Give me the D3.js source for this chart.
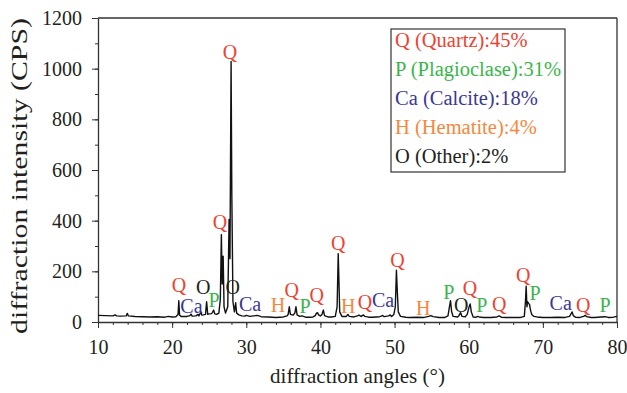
<!DOCTYPE html>
<html>
<head>
<meta charset="utf-8">
<script src="https://cdn.jsdelivr.net/npm/d3@7"></script>
<style>
  body { margin: 0; background: #fff; }
  svg { display: block; }
  text { font-family: "Liberation Serif", "DejaVu Serif", serif; }
</style>
</head>
<body>
<svg id="chart" width="627" height="393"></svg>
<script>
'use strict';

// diffraction pattern (angle in degrees, intensity in CPS)
var angles = [
  10, 11, 12, 12.3, 12.5, 13, 13.8, 13.95, 14.1, 15, 16, 17, 18, 19, 19.5, 20, 20.5,
  20.8, 20.9, 21.0, 21.2, 22, 22.4, 22.55, 22.7, 23.2, 23.5, 23.6, 23.9, 24.0, 24.2,
  24.5, 24.65, 24.8, 25.0, 25.3, 25.45, 25.6, 25.75, 26.0, 26.3, 26.5, 26.64, 26.75,
  26.88, 27.0, 27.2, 27.5, 27.68, 27.8, 27.95, 28.05, 28.2, 28.4, 28.57, 28.7, 29.0,
  29.4, 29.8, 30.0, 30.5, 31.0, 31.5, 32, 33, 34, 34.5, 35.0, 35.5, 35.65, 35.8, 35.95,
  36.3, 36.55, 36.7, 36.85, 37.2, 37.5, 38, 38.5, 39, 39.3, 39.45, 39.6, 39.75, 40.0,
  40.2, 40.4, 40.55, 41, 41.5, 42.0, 42.25, 42.4, 42.5, 42.6, 42.9, 43.5, 43.7, 43.9,
  44.5, 45.0, 45.2, 45.5, 45.8, 46.0, 46.5, 47, 47.5, 48.0, 48.2, 48.4, 48.6, 49.0,
  49.2, 49.4, 49.6, 49.9, 50.1, 50.25, 50.38, 50.5, 50.8, 51.5, 52, 53, 54, 54.6, 54.9,
  55.2, 56, 56.8, 57.2, 57.4, 57.55, 57.7, 57.9, 58.5, 58.7, 58.9, 59.1, 59.5, 59.8,
  60.05, 60.2, 60.35, 60.6, 61, 61.2, 61.4, 62, 63, 63.8, 64.1, 64.4, 65, 66, 67, 67.5,
  67.65, 67.75, 67.85, 67.95, 68.1, 68.2, 68.35, 68.5, 68.8, 69.2, 70, 71, 72, 73,
  73.6, 73.8, 73.95, 74.1, 74.4, 75, 75.5, 75.7, 75.9, 76.5, 77, 77.8, 78.4, 78.8,
  79.5, 80
];
var intensity = [
  26, 25, 24, 28, 24, 23, 24, 34, 24, 22, 21, 20, 21, 19, 22, 20, 21,
  30, 84, 28, 22, 22, 25, 31, 23, 24, 30, 24, 40, 27, 28,
  30, 80, 30, 32, 33, 38, 47, 32, 30, 35, 90, 345, 150,
  260, 60, 35, 60, 405, 250, 1028, 500, 80, 40, 76, 35, 28,
  24, 23, 26, 22, 24, 26, 21, 20, 18, 19, 20, 24, 30, 60, 30,
  27, 35, 60, 28, 22, 24, 19, 19, 20, 25, 34, 37, 28, 24,
  30, 47, 25, 20, 20, 22, 60, 270, 158, 40, 22, 22, 30, 22,
  20, 24, 27, 22, 28, 22, 19, 19, 20, 21, 23, 26, 21, 23,
  24, 28, 22, 30, 60, 204, 113, 40, 22, 19, 18, 19, 18, 22, 25,
  21, 18, 18, 24, 60, 84, 40, 22, 20, 26, 37, 22, 20, 30,
  60, 71, 40, 20, 19, 22, 20, 18, 18, 20, 24, 19, 18, 18, 18, 22,
  80, 141, 60, 80, 72, 70, 45, 30, 22, 20, 18, 18, 19, 18,
  22, 32, 40, 25, 19, 18, 22, 27, 21, 18, 18, 20, 21, 18,
  19, 22
];

// phase labels placed above the peaks
var peakLabels = ['Q', 'Q', 'Q', 'Ca', 'O', 'P', 'O', 'Ca', 'H', 'Q', 'P', 'Q', 'Q', 'H',
                  'Q', 'Ca', 'Q', 'H', 'P', 'O', 'Q', 'P', 'Q', 'Q', 'P', 'Ca', 'Q', 'P'];
var peakLabelAngles = [27.8, 26.46, 20.93, 22.6, 24.2, 25.65, 28.17, 30.5, 34.28, 36.13,
                       37.92, 39.5, 42.41, 43.76, 46.01, 48.44, 50.4, 53.88, 57.3, 58.98,
                       60.18, 61.75, 64.13, 67.36, 68.94, 72.41, 75.46, 78.38];
var peakLabelIntensity = [1066, 393, 146, 63, 140, 87, 138, 71, 67, 126, 63, 106, 310, 63,
                          80, 85, 244, 55, 119, 68, 133, 67, 71, 185, 113, 76, 67, 67];

var legendKeys = ['Q', 'P', 'Ca', 'H', 'O'];
var legendTexts = ['Q (Quartz):45%', 'P (Plagioclase):31%', 'Ca (Calcite):18%',
                   'H (Hematite):4%', 'O (Other):2%'];

var xTicks = [10, 20, 30, 40, 50, 60, 70, 80];
var yTicks = [0, 200, 400, 600, 800, 1000, 1200];

var phaseColor = {
  Q: '#ef4130',
  P: '#3ab54a',
  Ca: '#3b3894',
  H: '#f6883c',
  O: '#231f20'
};

var margin = {top: 18, right: 10, bottom: 71, left: 98},
    width = 627 - margin.left - margin.right,
    height = 393 - margin.top - margin.bottom;

var svg = d3.select('#chart');
var g = svg.append('g')
  .attr('transform', 'translate(' + margin.left + ',' + margin.top + ')');

var x = d3.scaleLinear().domain([10, 80]).range([0, width]);
var y = d3.scaleLinear().domain([0, 1200]).range([height, 0]);

var axisColor = '#333';

// frame (top and right)
g.append('line')
  .attr('x1', 0).attr('x2', width).attr('y1', 0).attr('y2', 0)
  .attr('stroke', axisColor).attr('stroke-width', 1.3);
g.append('line')
  .attr('x1', width).attr('x2', width).attr('y1', 0).attr('y2', height)
  .attr('stroke', axisColor).attr('stroke-width', 1.3);

// minor ticks
g.append('g')
  .attr('transform', 'translate(0,' + height + ')')
  .call(d3.axisBottom(x).tickValues(d3.range(10, 81, 2)).tickSize(3).tickFormat(''))
  .call(function(s) { s.select('.domain').remove(); s.selectAll('line').attr('stroke', axisColor); });
g.append('g')
  .call(d3.axisLeft(y).tickValues(d3.range(0, 1201, 100)).tickSize(3).tickFormat(''))
  .call(function(s) { s.select('.domain').remove(); s.selectAll('line').attr('stroke', axisColor); });

// major axes
var xAxis = g.append('g')
  .attr('transform', 'translate(0,' + height + ')')
  .call(d3.axisBottom(x).tickValues(xTicks).tickFormat(d3.format('d'))
    .tickSize(6).tickPadding(12).tickSizeOuter(0));
var yAxis = g.append('g')
  .call(d3.axisLeft(y).tickValues(yTicks).tickFormat(d3.format('d'))
    .tickSize(6).tickPadding(10).tickSizeOuter(0));

[xAxis, yAxis].forEach(function(a) {
  a.attr('font-family', null);
  a.select('.domain').attr('stroke', axisColor).attr('stroke-width', 1.3);
  a.selectAll('.tick line').attr('stroke', axisColor);
  a.selectAll('.tick text')
    .attr('fill', '#231f20')
    .style('font-family', '"Liberation Serif", serif')
    .style('font-size', '20px');
});

// pattern
var line = d3.line()
  .x(function(d) { return x(d[0]); })
  .y(function(d) { return y(d[1]); });

g.append('path')
  .datum(d3.zip(angles, intensity))
  .attr('fill', 'none')
  .attr('stroke', '#111')
  .attr('stroke-width', 1.4)
  .attr('stroke-linejoin', 'round')
  .attr('d', line);

// peak labels
g.append('g').selectAll('text')
  .data(d3.range(peakLabels.length))
  .enter().append('text')
  .attr('x', function(i) { return x(peakLabelAngles[i]); })
  .attr('y', function(i) { return y(peakLabelIntensity[i]); })
  .attr('dy', '0.35em')
  .attr('text-anchor', 'middle')
  .attr('fill', function(i) { return phaseColor[peakLabels[i]]; })
  .style('font-size', '20px')
  .text(function(i) { return peakLabels[i]; });

// legend
var legend = svg.append('g').attr('transform', 'translate(391,29)');
legend.append('rect')
  .attr('width', 174).attr('height', 143)
  .attr('fill', '#fff')
  .attr('stroke', '#333').attr('stroke-width', 1.2);
legend.selectAll('text')
  .data(legendTexts)
  .enter().append('text')
  .attr('x', 4)
  .attr('y', function(d, i) { return 11 + i * 29; })
  .attr('dy', '0.35em')
  .attr('fill', function(d, i) { return phaseColor[legendKeys[i]]; })
  .style('font-size', '20.5px')
  .text(function(d) { return d; });

// axis titles
svg.append('text')
  .attr('x', margin.left + width / 2)
  .attr('y', 383)
  .attr('text-anchor', 'middle')
  .attr('fill', '#231f20')
  .style('font-size', '21px')
  .text('diffraction angles (°)');

svg.append('text')
  .attr('transform', 'translate(27,176) rotate(-90)')
  .attr('text-anchor', 'middle')
  .attr('fill', '#231f20')
  .attr('textLength', 316)
  .attr('lengthAdjust', 'spacingAndGlyphs')
  .style('font-size', '23px')
  .text('diffraction intensity (CPS)');
</script>
</body>
</html>
